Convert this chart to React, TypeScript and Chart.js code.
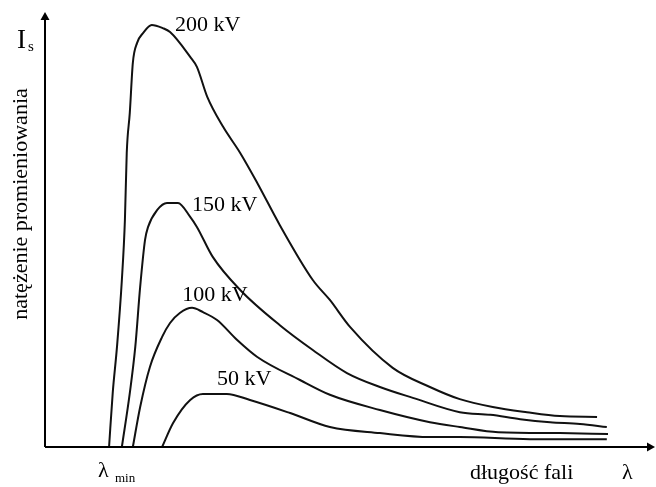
import React, { useEffect, useRef } from "react";
import { Chart, registerables } from "chart.js";

Chart.register(...registerables);

// wavelength (arbitrary units) and intensity (arbitrary units) for each tube voltage
const lambda200 = [10.5, 11.1, 11.8, 12.6, 13.1, 13.4, 13.9, 14.4, 15.1, 16.1, 17.5, 19.3, 20.5, 23.8, 24.9, 26.6, 29.2, 32.0, 34.8, 38.5, 43.9, 46.7, 50.0, 57.0, 63.1, 68.0, 73.4, 79.0, 84.4, 90.5];
const intensity200 = [0, 12.4, 23.0, 38.4, 52.2, 67.6, 76.8, 88.3, 92.9, 95.2, 97.0, 96.3, 95.4, 89.7, 87.4, 80.5, 73.6, 67.6, 60.7, 51.0, 38.4, 33.8, 27.6, 18.2, 13.8, 11.0, 9.2, 8.0, 7.1, 6.9];

const lambda150 = [12.6, 13.9, 14.8, 15.6, 16.4, 16.9, 18.4, 20.0, 21.8, 23.8, 24.9, 27.5, 32.0, 38.5, 43.9, 49.5, 54.9, 60.3, 68.0, 73.0, 77.9, 82.8, 87.7, 92.1];
const intensity150 = [0, 12.4, 23.0, 36.8, 47.6, 50.6, 54.5, 56.1, 56.1, 52.9, 50.6, 43.7, 36.1, 28.0, 22.3, 17.0, 13.8, 11.3, 8.0, 7.4, 6.4, 5.7, 5.3, 4.6];

const lambda100 = [14.4, 15.6, 17.2, 19.2, 20.5, 22.1, 24.1, 25.9, 28.2, 31.5, 34.8, 41.8, 46.7, 54.9, 63.1, 68.0, 74.3, 84.4, 92.3];
const intensity100 = [0, 9.2, 18.4, 25.3, 28.5, 30.8, 32.0, 31.0, 29.2, 24.6, 20.7, 15.4, 12.0, 8.5, 5.7, 4.6, 3.4, 3.2, 3.0];

const lambda50 = [19.2, 21.0, 23.8, 25.9, 29.8, 33.6, 40.2, 46.7, 54.9, 63.1, 68.0, 79.5, 92.1];
const intensity50 = [0, 5.5, 10.8, 12.2, 12.2, 10.8, 7.8, 4.6, 3.2, 2.3, 2.3, 1.8, 1.8];

const seriesLabels = ["200 kV", "150 kV", "100 kV", "50 kV"];

const yTitle = "natężenie promieniowania";
const xTitle = "długość fali";
const xSymbol = "λ";
const yMain = "I";
const ySub = "s";
const minMain = "λ";
const minSub = "min";

// anchor of each curve label in data units
const labelAnchors = [
  { x: 21.3, y: 97.0 },
  { x: 24.1, y: 55.6 },
  { x: 22.5, y: 34.9 },
  { x: 28.2, y: 15.6 },
];

const zip = (xs: number[], ys: number[]) => xs.map((x, i) => ({ x, y: ys[i] }));

const FONT = '"Liberation Serif", "Times New Roman", serif';

const decorPlugin = {
  id: "decor",
  afterDatasetsDraw(chart: any) {
    const ctx: CanvasRenderingContext2D = chart.ctx;
    const { left, right, top, bottom } = chart.chartArea;
    const xs = chart.scales.x;
    const ys = chart.scales.y;
    ctx.save();
    ctx.strokeStyle = "#000";
    ctx.fillStyle = "#000";
    ctx.lineWidth = 2;
    // axes
    ctx.beginPath();
    ctx.moveTo(left, bottom);
    ctx.lineTo(left, top + 4);
    ctx.moveTo(left, bottom);
    ctx.lineTo(right - 4, bottom);
    ctx.stroke();
    // arrow heads
    ctx.beginPath();
    ctx.moveTo(left, top);
    ctx.lineTo(left - 4.5, top + 8);
    ctx.lineTo(left + 4.5, top + 8);
    ctx.closePath();
    ctx.fill();
    ctx.beginPath();
    ctx.moveTo(right, bottom);
    ctx.lineTo(right - 8, bottom - 4.5);
    ctx.lineTo(right - 8, bottom + 4.5);
    ctx.closePath();
    ctx.fill();

    // curve labels
    ctx.font = `22px ${FONT}`;
    ctx.textAlign = "left";
    ctx.textBaseline = "middle";
    seriesLabels.forEach((t, i) => {
      const a = labelAnchors[i];
      ctx.fillText(t, xs.getPixelForValue(a.x), ys.getPixelForValue(a.y));
    });

    // y axis title (rotated)
    ctx.save();
    ctx.translate(left - 24, top + 192);
    ctx.rotate(-Math.PI / 2);
    ctx.textAlign = "center";
    ctx.textBaseline = "middle";
    ctx.font = `22px ${FONT}`;
    ctx.fillText(yTitle, 0, 0);
    ctx.restore();

    // I_s
    ctx.textBaseline = "alphabetic";
    ctx.textAlign = "left";
    ctx.font = `27px ${FONT}`;
    ctx.fillText(yMain, left - 28, top + 36);
    ctx.font = `15px ${FONT}`;
    ctx.fillText(ySub, left - 17, top + 39);

    // λmin
    ctx.font = `22px ${FONT}`;
    ctx.fillText(minMain, left + 53, bottom + 30);
    ctx.font = `13px ${FONT}`;
    ctx.fillText(minSub, left + 70, bottom + 35);

    // x title and λ
    ctx.font = `22px ${FONT}`;
    ctx.fillText(xTitle, left + 425, bottom + 32);
    ctx.fillText(xSymbol, left + 577, bottom + 32);
    ctx.restore();
  },
};

export default function App() {
  const ref = useRef<HTMLCanvasElement>(null);
  useEffect(() => {
    document.body.style.margin = "0";
    const series = [
      zip(lambda200, intensity200),
      zip(lambda150, intensity150),
      zip(lambda100, intensity100),
      zip(lambda50, intensity50),
    ];
    const chart = new Chart(ref.current!, {
      type: "line",
      data: {
        datasets: series.map((d, i) => ({
          label: seriesLabels[i],
          data: d,
          borderColor: "#111",
          borderWidth: 2,
          pointRadius: 0,
          fill: false,
          cubicInterpolationMode: "monotone" as const,
        })),
      },
      options: {
        animation: false,
        responsive: false,
        devicePixelRatio: 1,
        layout: { padding: { left: 45, right: 1, top: 12, bottom: 40 } },
        plugins: { legend: { display: false }, tooltip: { enabled: false } },
        scales: {
          x: { type: "linear", min: 0, max: 100, display: false },
          y: { type: "linear", min: 0, max: 100, display: false },
        },
      },
      plugins: [decorPlugin],
    });
    return () => chart.destroy();
  }, []);
  return <canvas ref={ref} width={656} height={487} style={{ display: "block" }} />;
}
